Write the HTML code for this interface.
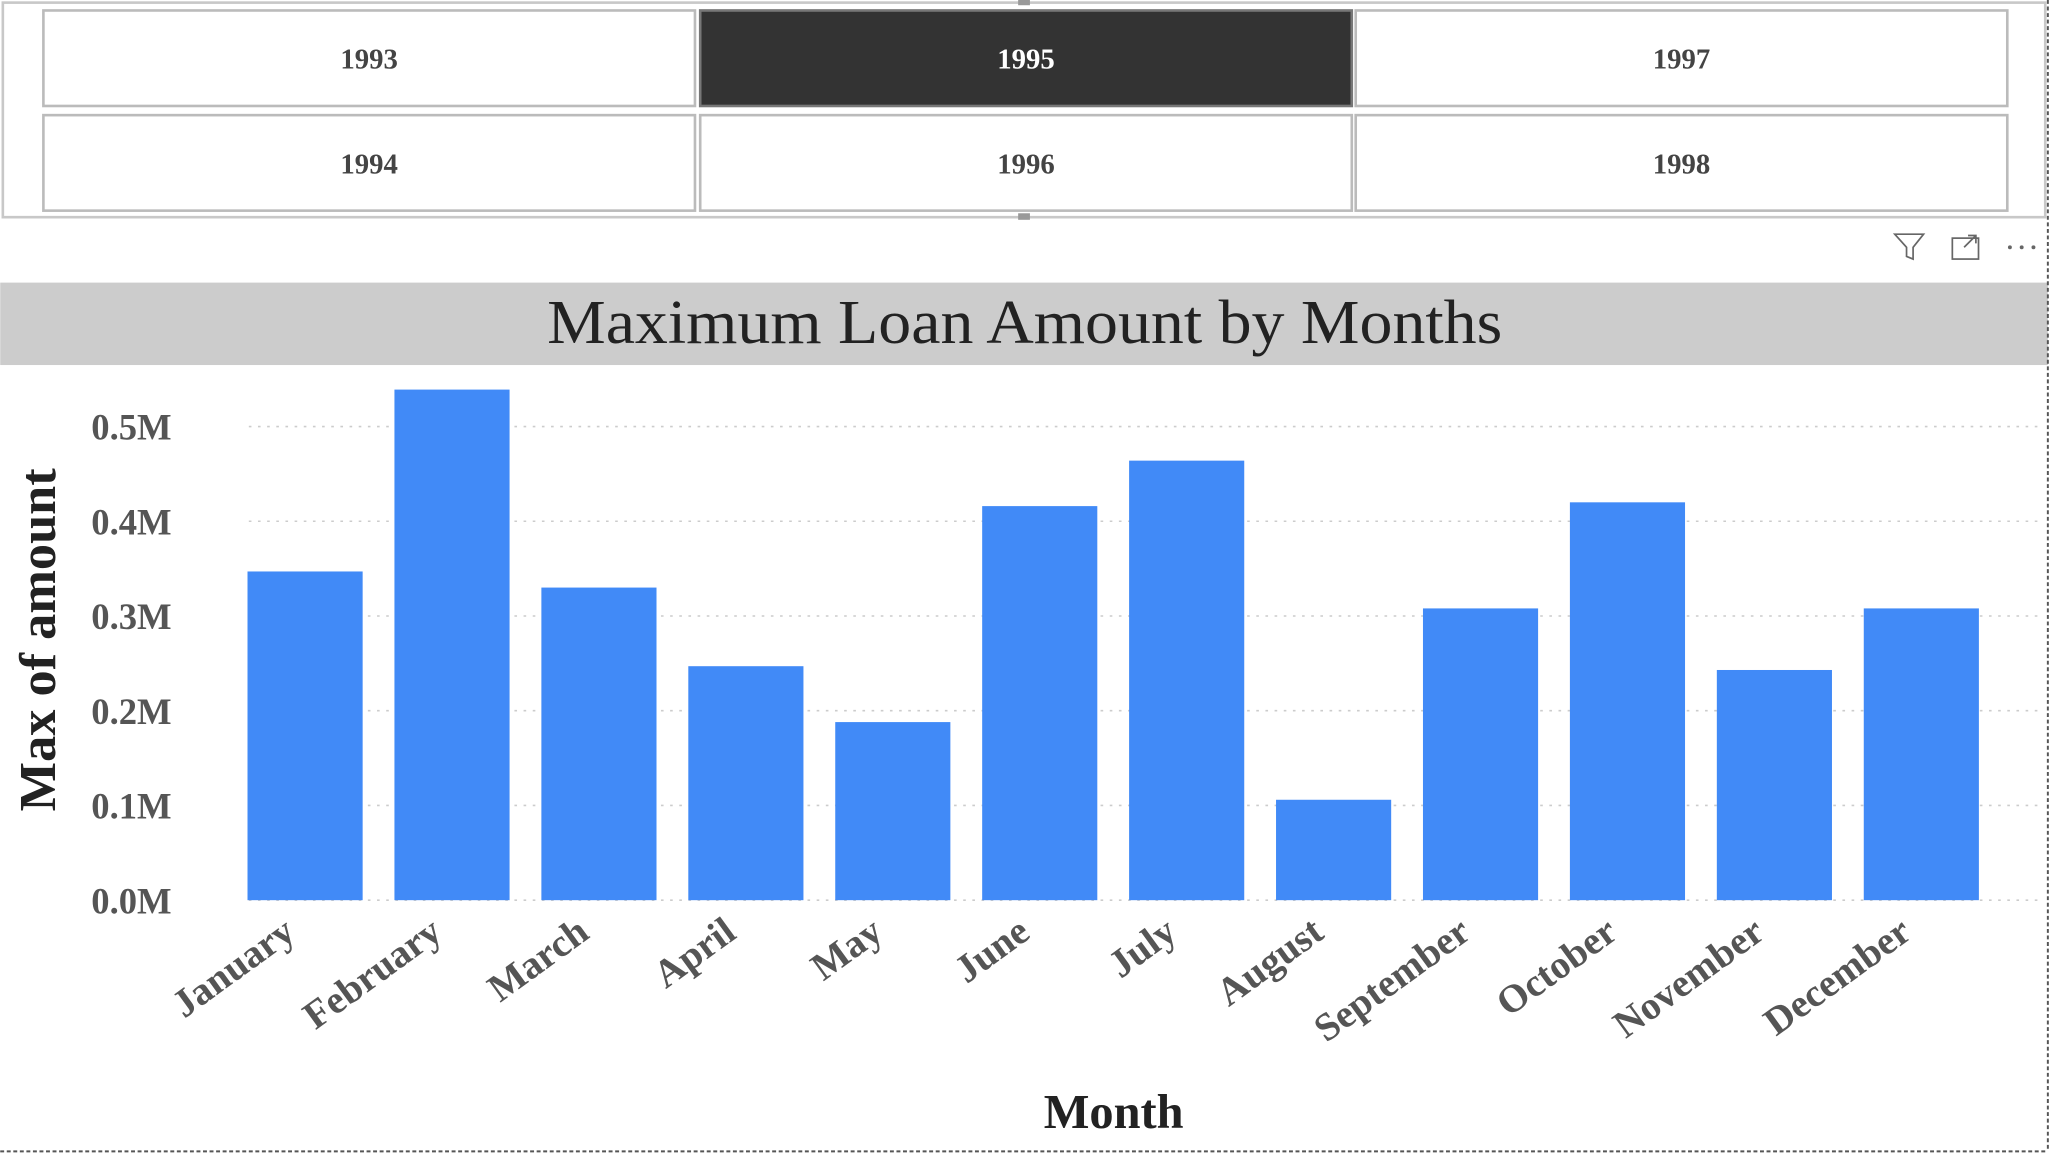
<!DOCTYPE html>
<html><head><meta charset="utf-8"><style>
html,body{margin:0;padding:0;background:#fff;}
svg{display:block;}
text{font-family:"Liberation Serif",serif;}
</style></head><body>
<svg id="chart" width="2052" height="1154" viewBox="0 0 1568 882" xmlns="http://www.w3.org/2000/svg">
<g>
  <rect x="2" y="2" width="1561" height="164" fill="none" stroke="#c8c8c8" stroke-width="2"/>
  <rect x="778" y="0" width="9" height="4" fill="#999"/>
  <rect x="778" y="163" width="9" height="5" fill="#999"/>
  <g id="slicer-btns"></g>
</g>
<g stroke="#666" fill="none" stroke-width="1.3">
  <path d="M1448 179 L1470 179 L1462 189 L1462 198 L1457 196 L1457 189 Z"/>
  <g><rect x="1492" y="182" width="20" height="16"/><path d="M1501 189 L1510 180 M1504 180 L1510 180 L1510 186"/></g>
  <g fill="#666" stroke="none"><circle cx="1536" cy="189" r="1.5"/><circle cx="1545" cy="189" r="1.5"/><circle cx="1554" cy="189" r="1.5"/></g>
</g>
<rect x="0" y="216" width="1565" height="63" fill="#cccccc"/>
<text x="783" y="262" text-anchor="middle" font-size="48" fill="#222" textLength="730" lengthAdjust="spacingAndGlyphs">Maximum Loan Amount by Months</text>
<g id="grid"></g>
<g id="bars"></g>
<g id="xlabels"></g>
<text x="851" y="862" text-anchor="middle" font-size="37" font-weight="bold" fill="#222">Month</text>
<text transform="translate(42,489) rotate(-90)" text-anchor="middle" font-size="40" font-weight="bold" fill="#222">Max of amount</text>
<line x1="1565" y1="0" x2="1565" y2="880" stroke="#555" stroke-width="1.5" stroke-dasharray="3,2"/>
<line x1="0" y1="880" x2="1565" y2="880" stroke="#555" stroke-width="1.5" stroke-dasharray="3,2"/>
</svg>
<script>
const years = ['1993','1995','1997','1994','1996','1998'];
const selectedYear = '1995';
const months = ['January','February','March','April','May','June','July','August','September','October','November','December'];
const maxAmount = [0.347,0.539,0.330,0.247,0.188,0.416,0.464,0.106,0.308,0.420,0.243,0.308];
const yTicks = [0,0.1,0.2,0.3,0.4,0.5];
const yTickLabels = ['0.0M','0.1M','0.2M','0.3M','0.4M','0.5M'];

const NS='http://www.w3.org/2000/svg';
function mk(tag,attrs,parent){const e=document.createElementNS(NS,tag);for(const k in attrs)e.setAttribute(k,attrs[k]);parent.appendChild(e);return e;}

const sl=document.getElementById('slicer-btns');
const colX=[33,535,1036], rowY=[8,88], bw=498, bh=73;
years.forEach((y,i)=>{
  const c=i%3, r=Math.floor(i/3);
  const sel=y===selectedYear;
  const g=mk('g',{},sl);
  
  
  mk('rect',{x:colX[c],y:rowY[r],width:bw,height:bh,fill:sel?'#333':'#fff',stroke:sel?'#777':'#bbb','stroke-width':2},g);
  const t=mk('text',{x:colX[c]+bw/2,y:rowY[r]+bh/2+8,'text-anchor':'middle','font-size':22,'font-weight':'bold',fill:sel?'#fff':'#444'},g);
  t.textContent=y;
});

const y0=688, pxPerM=724;
const yScale=v=>y0-v*pxPerM;
const step=112.3, firstCenter=233, barW=88;
const xScale=i=>firstCenter+i*step;

const grid=document.getElementById('grid');
yTicks.forEach((v,i)=>{
  const ln=mk('line',{x1:190,x2:1560,y1:yScale(v),y2:yScale(v),stroke:'#ccc','stroke-width':1.2,'stroke-dasharray':'2,5'},grid);
  
  
  const t=mk('text',{x:131,y:yScale(v)+10,'text-anchor':'end','font-size':28,'font-weight':'bold',fill:'#555'},grid);
  
  
  t.textContent=yTickLabels[i];
});

const bars=document.getElementById('bars');
const xl=document.getElementById('xlabels');
months.forEach((m,i)=>{
  const cx=xScale(i);
  const r=mk('rect',{x:cx-barW/2,y:yScale(maxAmount[i]),width:barW,height:y0-yScale(maxAmount[i]),fill:'#418af7'},bars);
  
  
  const t=mk('text',{transform:`translate(${cx-6},${716}) rotate(-36)`,'text-anchor':'end','font-size':30,'font-weight':'bold',fill:'#555'},xl);
  
  
  t.textContent=m;
});
</script>
</body></html>
